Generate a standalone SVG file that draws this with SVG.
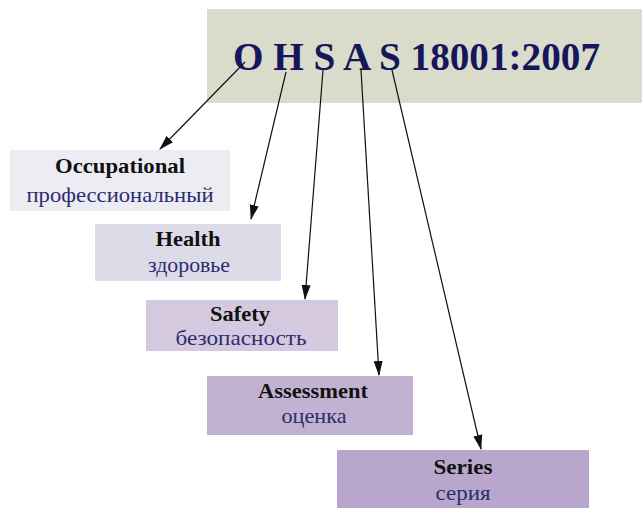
<svg xmlns="http://www.w3.org/2000/svg" width="642" height="508" viewBox="0 0 642 508">
<style>
.en{font-family:"Liberation Serif","Times New Roman",serif;font-weight:bold;font-size:22px;fill:#111111;text-anchor:middle}
.ru{font-family:"Liberation Serif","Times New Roman",serif;font-size:22px;fill:#2b2d6e;text-anchor:middle}
.title{font-family:"Liberation Serif","Times New Roman",serif;font-weight:bold;font-size:41px;fill:#15165c}
.conn{stroke:#111111;stroke-width:1.2;fill:none;marker-end:url(#arr)}
</style>
<defs>
<marker id="arr" markerUnits="userSpaceOnUse" markerWidth="15" markerHeight="10" refX="14" refY="5" orient="auto">
<path d="M0,0.5 L15,5 L0,9.5 Z" fill="#111111"/>
</marker>
</defs>
<rect width="642" height="508" fill="#ffffff"/>
<g id="title">
<rect x="207" y="9" width="435" height="94" fill="#d9dcca"/>
<text class="title" x="233" y="70" textLength="367" lengthAdjust="spacingAndGlyphs">O H S A S 18001:2007</text>
</g>
<g id="connectors">
<line class="conn" x1="245" y1="62" x2="160" y2="149"/>
<line class="conn" x1="286" y1="72" x2="251" y2="219"/>
<line class="conn" x1="323" y1="70" x2="305" y2="299"/>
<line class="conn" x1="361" y1="70" x2="379" y2="375"/>
<line class="conn" x1="392" y1="70" x2="481" y2="449"/>
</g>
<g id="occupational">
<rect x="10" y="150" width="220" height="61" fill="#edecf3"/>
<text class="en" x="120" y="173" textLength="130" lengthAdjust="spacingAndGlyphs">Occupational</text>
<text class="ru" x="120" y="202" textLength="187" lengthAdjust="spacingAndGlyphs">профессиональный</text>
</g>
<g id="health">
<rect x="95" y="224" width="186" height="57" fill="#dedbe9"/>
<text class="en" x="188" y="246" textLength="65" lengthAdjust="spacingAndGlyphs">Health</text>
<text class="ru" x="189" y="272" textLength="82" lengthAdjust="spacingAndGlyphs">здоровье</text>
</g>
<g id="safety">
<rect x="146" y="300" width="192" height="51" fill="#d4c9df"/>
<text class="en" x="240" y="321" textLength="60" lengthAdjust="spacingAndGlyphs">Safety</text>
<text class="ru" x="241" y="345" textLength="131" lengthAdjust="spacingAndGlyphs">безопасность</text>
</g>
<g id="assessment">
<rect x="207" y="376" width="206" height="59" fill="#c2b2d2"/>
<text class="en" x="313" y="398" textLength="110" lengthAdjust="spacingAndGlyphs">Assessment</text>
<text class="ru" x="314" y="423" textLength="65" lengthAdjust="spacingAndGlyphs">оценка</text>
</g>
<g id="series">
<rect x="337" y="450" width="252" height="58" fill="#b9a6cc"/>
<text class="en" x="463" y="474" textLength="59" lengthAdjust="spacingAndGlyphs">Series</text>
<text class="ru" x="463" y="500" textLength="55" lengthAdjust="spacingAndGlyphs">серия</text>
</g>
</svg>
